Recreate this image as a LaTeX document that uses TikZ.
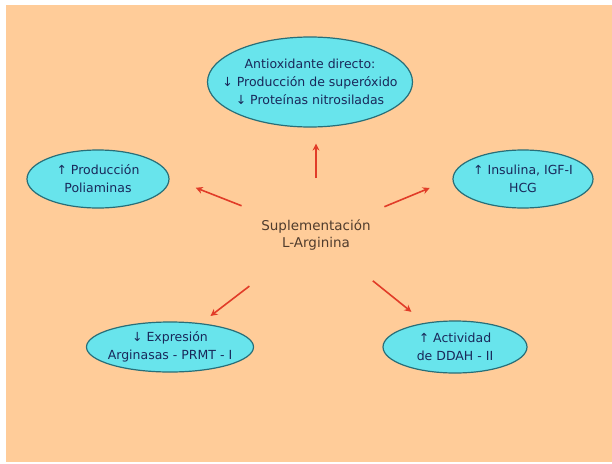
\documentclass[tikz,border=0pt]{standalone}
\usepackage{fontspec}
\setmainfont{DejaVu Sans}
\usetikzlibrary{shapes.geometric,arrows.meta}
\definecolor{peach}{RGB}{255,204,153}
\definecolor{bubblefill}{RGB}{104,228,236}
\definecolor{bubbleline}{RGB}{40,110,120}
\definecolor{bubbletext}{RGB}{25,40,90}
\definecolor{centertext}{RGB}{80,60,45}
\definecolor{arrowred}{RGB}{225,60,40}

\begin{document}
\begin{tikzpicture}[
    x=1pt, y=-1pt,
    font=\fontsize{12.5}{18}\selectfont,
    bubble/.style={draw=bubbleline, line width=1.2pt, ellipse, fill=bubblefill, inner sep=0pt},
    bubbletxt/.style={align=center, text=bubbletext},
    arrow/.style={-{Stealth[length=7pt,width=7pt]}, arrowred, line width=1.6pt}
]
\useasboundingbox (0,0) rectangle (612,463);
\fill[peach] (6,5) rectangle (612,462);

\node[bubble, minimum width=205pt, minimum height=90pt] (top) at (310,82) {};
\node[bubbletxt] (toptxt) at (top) {Antioxidante directo:\\ ↓ Producción de superóxido\\ ↓ Proteínas nitrosiladas};
\node[bubble, minimum width=142pt, minimum height=58pt] (left) at (98,179) {};
\node[bubbletxt] (lefttxt) at (left) {↑ Producción\\ Poliaminas};
\node[bubble, minimum width=140pt, minimum height=58pt] (right) at (523,179) {};
\node[bubbletxt] (righttxt) at (right) {↑ Insulina, IGF-I\\ HCG};
\node[bubble, minimum width=167pt, minimum height=50pt] (bl) at (170,347) {};
\node[bubbletxt] (bltxt) at (bl) {↓ Expresión\\ Arginasas - PRMT - I};
\node[bubble, minimum width=144pt, minimum height=52pt] (br) at (455,347) {};
\node[bubbletxt] (brtxt) at (br) {↑ Actividad\\ de DDAH - II};

\node[align=center, text=centertext, font=\fontsize{13.5}{17}\selectfont] (sup) at (316,235) {Suplementación\\ L-Arginina};

\draw[arrow, shorten <=57pt, shorten >=16pt] (sup.center) -- (sup.center |- top.south);
\draw[arrow, shorten <=80pt, shorten >=105pt] (sup.center) -- (left.north);
\draw[arrow, shorten <=74pt, shorten >=101pt] (sup.center) -- (right.north);
\draw[arrow, shorten <=84pt, shorten >=51pt] (sup.center) -- (bl.center);
\draw[arrow, shorten <=73pt, shorten >=56pt] (sup.center) -- (br.center);
\end{tikzpicture}
\end{document}
